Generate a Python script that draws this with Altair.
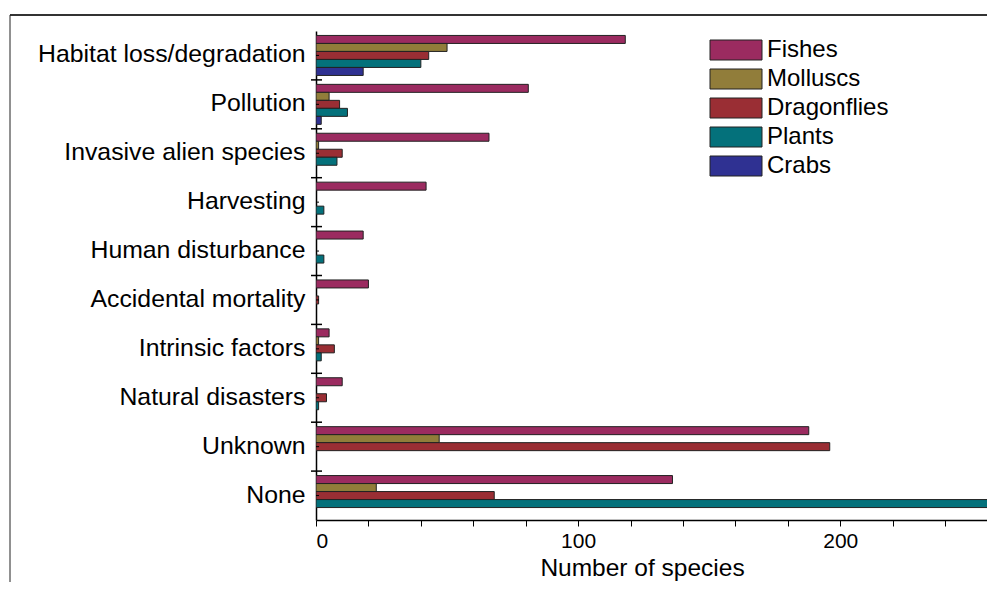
import altair as alt
import pandas as pd

categories = ["Habitat loss/degradation", "Pollution", "Invasive alien species",
              "Harvesting", "Human disturbance", "Accidental mortality",
              "Intrinsic factors", "Natural disasters", "Unknown", "None"]
series = ["Fishes", "Molluscs", "Dragonflies", "Plants", "Crabs"]
fishes = [118, 81, 66, 42, 18, 20, 5, 10, 188, 136]
molluscs = [50, 5, 1, 0, 0, 0, 1, 0, 47, 23]
dragonflies = [43, 9, 10, 0, 0, 1, 7, 4, 196, 68]
plants = [40, 12, 8, 3, 3, 0, 2, 1, 0, 260]
crabs = [18, 2, 0, 0, 0, 0, 0, 0, 0, 0]
colors = ["#9b2b60", "#917d3a", "#9a2e34", "#04717b", "#2f3192"]
x_ticks = list(range(0, 241, 20))

W, H = 671, 489
FONT = "Liberation Sans"

rows = []
for s, vals in zip(series, [fishes, molluscs, dragonflies, plants, crabs]):
    for c, v in zip(categories, vals):
        rows.append({"cause": c, "group": s, "value": v})
df = pd.DataFrame(rows)

y_scale = alt.Scale(domain=categories, paddingInner=0, paddingOuter=0)
y_axis = alt.Axis(title=None, ticks=False, labelFontSize=24.8,
                  labelColor="black", labelPadding=11,
                  domainColor="black", domainWidth=1.5, labelLimit=400)

bars = alt.Chart(df).transform_filter("datum.value > 0").mark_bar(
    stroke="#222222", strokeWidth=1, clip=True
).encode(
    x=alt.X("value:Q", scale=alt.Scale(domain=[0, 256], nice=False, zero=True),
            axis=alt.Axis(values=x_ticks,
                          labelExpr="datum.value % 100 == 0 ? datum.label : ''",
                          title="Number of species", grid=False,
                          tickSize=6, tickColor="black", tickWidth=1,
                          labelFontSize=21, labelPadding=4, labelColor="black",
                          domainColor="black", domainWidth=1.5,
                          titleFontSize=24.5, titleFontWeight="normal",
                          titleColor="black", titlePadding=5,
                          titleX=326, titleAlign="center")),
    y=alt.Y("cause:N", scale=y_scale, sort=categories, axis=y_axis),
    yOffset=alt.YOffset("group:N", sort=series,
                        scale=alt.Scale(domain=series, paddingInner=0, paddingOuter=0.556)),
    color=alt.Color("group:N", sort=series,
                    scale=alt.Scale(domain=series, range=colors),
                    legend=alt.Legend(title=None, orient="none", legendX=408, legendY=7,
                                      symbolType="M-2.6,-1H2.6V1H-2.6Z",
                                      symbolSize=400, symbolStrokeColor="#222222",
                                      symbolStrokeWidth=1, symbolOpacity=1,
                                      labelFontSize=24, labelColor="black",
                                      labelOffset=19, rowPadding=5, padding=0)),
)

tick_df = pd.DataFrame({"cause": categories[1:]})
band_ticks = alt.Chart(tick_df).mark_rule(color="black", strokeWidth=1.5).encode(
    y=alt.Y("cause:N", scale=y_scale, sort=categories, bandPosition=0, axis=y_axis),
    x=alt.value(-5), x2=alt.value(6),
)
center_df = pd.DataFrame({"cause": categories})
center_ticks = alt.Chart(center_df).mark_rule(color="black", strokeWidth=1).encode(
    y=alt.Y("cause:N", scale=y_scale, sort=categories, axis=y_axis),
    x=alt.value(0), x2=alt.value(3),
)

frame_df = pd.DataFrame({"k": [0]})
frame_top = alt.Chart(frame_df).mark_rule(color="#333333", strokeWidth=2).encode(
    x=alt.value(-306), x2=alt.value(W + 20), y=alt.value(-16)
)
frame_left = alt.Chart(frame_df).mark_rule(color="#222222", strokeWidth=1).encode(
    x=alt.value(-306), y=alt.value(-16), y2=alt.value(H + 120)
)

chart = alt.layer(bars, band_ticks, center_ticks, frame_top, frame_left).properties(
    width=W, height=H,
    autosize=alt.AutoSizeParams(type="none"),
    padding={"left": 308, "top": 23, "right": 0, "bottom": 62},
).configure(font=FONT).configure_view(strokeWidth=0)

chart.save("out.html", embed_options={"renderer": "svg", "actions": False})
